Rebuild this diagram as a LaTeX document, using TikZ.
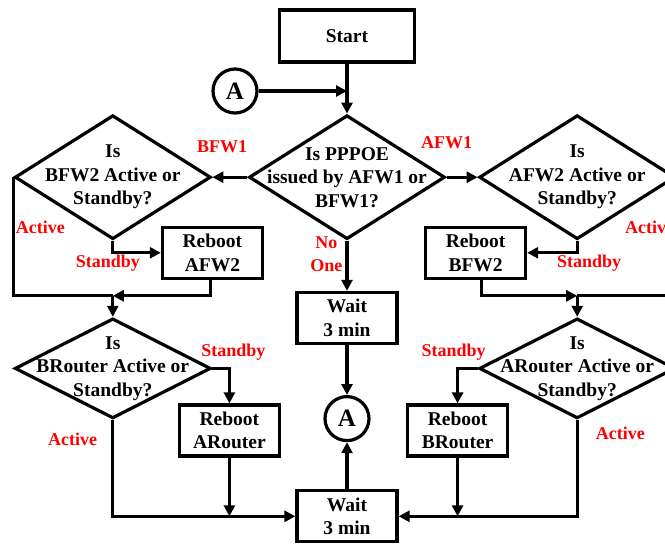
\documentclass[tikz,border=0pt]{standalone}
\usepackage{fontspec}
\setmainfont{Liberation Serif}
\usetikzlibrary{arrows.meta,positioning,shapes.geometric}
\definecolor{labelred}{RGB}{255,0,0}
\newcommand{\boxfont}{\fontsize{19.5}{23.5}\selectfont\bfseries}
\newcommand{\lblfont}{\fontsize{18}{23}\selectfont\bfseries}
\tikzset{
  procbox/.style={rectangle, draw=black, line width=3.2pt, fill=white,
    minimum width=100pt, minimum height=51pt, align=center, font=\boxfont},
  decision/.style={diamond, draw=black, line width=3.2pt, fill=white,
    minimum width=196pt, minimum height=124pt, inner xsep=-60pt, inner ysep=-20pt,
    align=center, font=\boxfont},
  connector/.style={circle, draw=black, line width=3.2pt, fill=white,
    minimum size=44pt, inner sep=0pt, font=\fontsize{25}{25}\selectfont\bfseries},
  flow/.style={-{Triangle[length=11pt,width=11pt]}, line width=3.2pt},
  wire/.style={line width=3.2pt},
  lbl/.style={text=labelred, font=\lblfont, align=center, inner sep=1pt}
}
\begin{document}
\begin{tikzpicture}[x=1pt, y=1pt]
  \useasboundingbox (0,0) rectangle (665,-546);
  \clip (0,0) rectangle (665,-546);

  % --- start and main question ---
  \node[procbox, minimum width=135pt, minimum height=52pt] (start) at (347,-36) {Start};
  \node[connector] (conA) at (235,-91) {A};
  \node[decision, below=50pt of start] (qmain) {Is PPPOE\\ issued by AFW1 or\\ BFW1?};

  % --- firewall checks ---
  \node[decision, left=35pt of qmain] (bfw2q) {Is\\ BFW2 Active or\\ Standby?};
  \node[decision, right=31pt of qmain] (afw2q) {Is\\ AFW2 Active or\\ Standby?};
  \node[procbox, right=48pt of bfw2q.south, yshift=-12pt] (rebAFW2) {Reboot\\ AFW2};
  \node[procbox, left=50pt of afw2q.south, yshift=-12pt] (rebBFW2) {Reboot\\ BFW2};

  % --- centre column ---
  \node[procbox, below=50pt of qmain] (waitA) {Wait\\ 3 min};
  \node[connector, below=50pt of waitA] (conB) {A};
  \node[procbox, below=47pt of conB] (waitB) {Wait\\ 3 min};

  % --- router checks ---
  \node[decision, minimum height=100pt, below=76pt of bfw2q] (brq) {Is\\ BRouter Active or\\ Standby?};
  \node[decision, minimum height=100pt, below=76pt of afw2q] (arq) {Is\\ ARouter Active or\\ Standby?};
  \node[procbox, below=35pt of brq.east, xshift=17pt] (rebARouter) {Reboot\\ ARouter};
  \node[procbox, below=35pt of arq.west, xshift=-20pt] (rebBRouter) {Reboot\\ BRouter};

  \coordinate[below=55pt of bfw2q.south] (joinL);
  \coordinate[below=55pt of afw2q.south] (joinR);

  % ---------------- edges ----------------
  \draw[flow] (start) -- (qmain);
  \draw[flow] (conA) -- (conA -| start);
  \draw[flow] (qmain.west) -- node[lbl, above=22pt, pos=0.72] (lblBFW1) {BFW1} (bfw2q.east);
  \draw[flow] (qmain.east) -- node[lbl, above=26pt, pos=0] (lblAFW1) {AFW1} (afw2q.west);
  \draw[flow] (qmain.south) -- node[lbl, left=2pt, pos=0.27] (lblNoOne) {No\\ One} (waitA.north);

  \draw[flow] (bfw2q.south) |- node[lbl, below, xshift=-5pt, pos=0.5] (lblStbyL) {Standby} (rebAFW2.west);
  \draw[flow] (afw2q.south) |- node[lbl, below, xshift=12pt, pos=0.5] (lblStbyR) {Standby} (rebBFW2.east);
  \draw[wire] (bfw2q.west) |- node[lbl, right, pos=0.21] (lblActL) {Active} (joinL);
  \draw[wire] (afw2q.east) |- node[lbl, left, pos=0.21] (lblActR) {Active} (joinR);
  \draw[flow] ([xshift=-2pt]rebAFW2.south) |- (joinL);
  \draw[flow] ([xshift=6pt]rebBFW2.south) |- (joinR);
  \draw[flow] (joinL) -- (brq.north);
  \draw[flow] (joinR) -- (arq.north);

  \draw[flow] (brq.east) -| node[lbl, above=5pt, xshift=4pt, pos=0.5] (lblStbyBR) {Standby} (rebARouter.north);
  \draw[flow] (arq.west) -| node[lbl, above=5pt, xshift=-4pt, pos=0.5] (lblStbyAR) {Standby} (rebBRouter.north);
  \draw[flow] (brq.south) |- node[lbl, left=13pt, pos=0.1] (lblActBR) {Active} (waitB.west);
  \draw[flow] (arq.south) |- node[lbl, right=16pt, pos=0.07] (lblActAR) {Active} (waitB.east);
  \draw[flow] (rebARouter.south) -- (rebARouter.south |- waitB.west);
  \draw[flow] (rebBRouter.south) -- (rebBRouter.south |- waitB.east);
  \draw[flow] (waitA) -- (conB);
  \draw[flow] (waitB) -- (conB);

\end{tikzpicture}
\end{document}
